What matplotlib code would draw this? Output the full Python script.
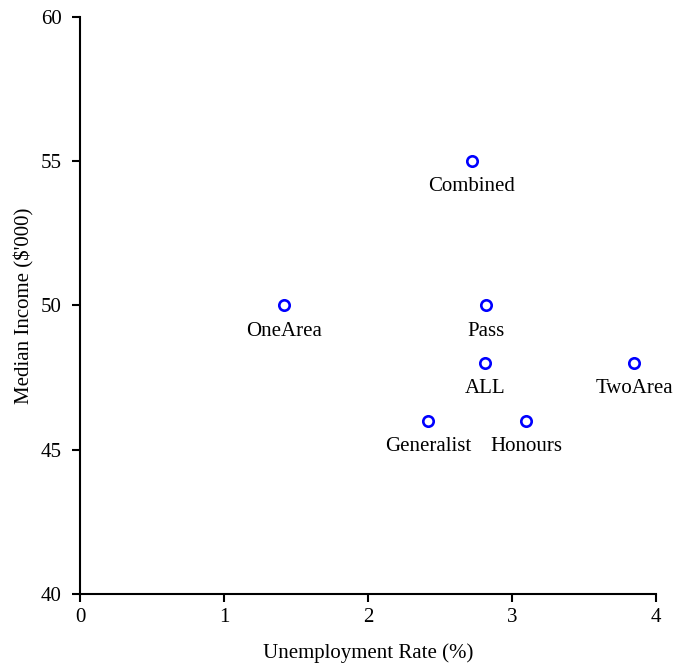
import matplotlib
matplotlib.use("Agg")
import matplotlib.pyplot as plt

# ------------------------
# Data
# ------------------------
programs = ["Combined", "OneArea", "Pass", "ALL", "TwoArea", "Generalist", "Honours"]
unemployment = [2.72, 1.42, 2.82, 2.81, 3.85, 2.42, 3.10]
median_income = [55, 50, 50, 48, 48, 46, 46]

x_ticks = [0, 1, 2, 3, 4]
y_ticks = [40, 45, 50, 55, 60]

plt.rcParams['font.family'] = ['Liberation Serif', 'DejaVu Serif']
plt.rcParams['font.size'] = 15

fig = plt.figure(figsize=(6.74, 6.66), dpi=100)
ax = fig.add_axes([0.1187, 0.1081, 0.8546, 0.8664])

ax.plot(unemployment, median_income, linestyle='none', marker='o',
        markersize=7.5, markerfacecolor='none', markeredgecolor='#0000ff',
        markeredgewidth=1.9, clip_on=False)

for name, x, y in zip(programs, unemployment, median_income):
    ax.annotate(name, (x, y), xytext=(0, -18.5), textcoords='offset points',
                ha='center', va='center', color='black')

ax.set_xlim(0, 4)
ax.set_ylim(40, 60)
ax.set_xticks(x_ticks)
ax.set_yticks(y_ticks)

for side in ['top', 'right']:
    ax.spines[side].set_visible(False)
for side in ['left', 'bottom']:
    ax.spines[side].set_linewidth(1.5)
ax.tick_params(direction='out', length=6, width=1.5)
ax.tick_params(axis='x', pad=4)
ax.tick_params(axis='y', pad=7)

ax.set_xlabel("Unemployment Rate (%)", labelpad=12)
ax.set_ylabel("Median Income ($'000)", labelpad=5)

fig.savefig("out.png", dpi=100)
